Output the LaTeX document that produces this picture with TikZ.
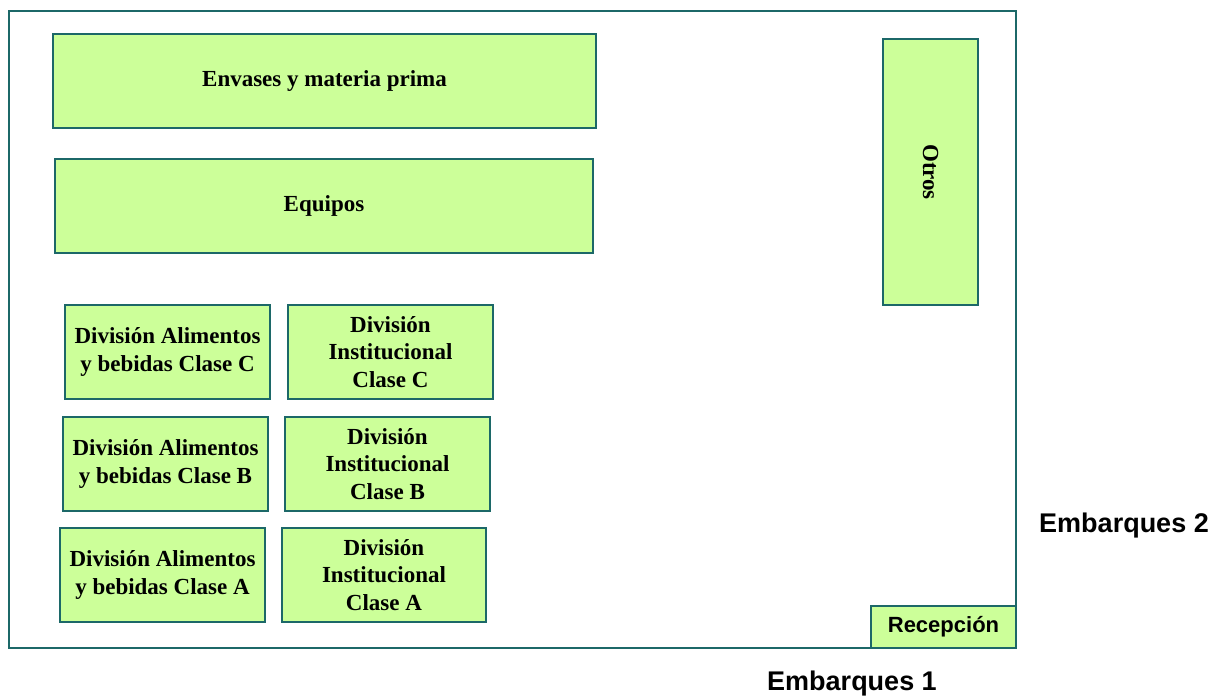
\documentclass[tikz,border=0pt]{standalone}
\usepackage{fontspec}
\setmainfont{Liberation Serif}
\newfontfamily\arialfont{Liberation Sans}
\definecolor{zoneedge}{RGB}{28,104,104}
\definecolor{zonefill}{RGB}{204,255,153}
\begin{document}
\begin{tikzpicture}[x=1pt,y=-1pt,
  zone/.style={draw=zoneedge,fill=zonefill,line width=2pt,inner sep=0pt,
    font=\fontsize{23}{27.5}\selectfont\bfseries,align=center},
  dock/.style={font=\arialfont\fontsize{27}{31}\selectfont\bfseries}]
\useasboundingbox (0,0) rectangle (1223,697);
% warehouse outline
\draw[zoneedge,line width=2pt] (9,11) rectangle (1016,648);
% storage zones
\node[zone,minimum width=543pt,minimum height=94pt] (envases) at (324.5,81) {Envases y materia prima};
\node[zone,minimum width=538pt,minimum height=94pt] (equipos) at (324,206) {Equipos};
\node[zone,minimum width=95pt,minimum height=266pt] (otros) at (930.5,172) {};
\node[font=\fontsize{23}{27}\selectfont\bfseries,rotate=-90] (otrostxt) at (otros.center) {Otros};
\node[zone,minimum width=205pt,minimum height=94pt] (aliC) at (167.5,352) {División Alimentos\\y bebidas Clase C};
\node[zone,minimum width=205pt,minimum height=94pt] (insC) at (390.5,352) {División\\Institucional\\Clase C};
\node[zone,minimum width=205pt,minimum height=94pt] (aliB) at (165.5,464) {División Alimentos\\y bebidas Clase B};
\node[zone,minimum width=205pt,minimum height=94pt] (insB) at (387.5,464) {División\\Institucional\\Clase B};
\node[zone,minimum width=205pt,minimum height=94pt] (aliA) at (162.5,575) {División Alimentos\\y bebidas Clase A};
\node[zone,minimum width=204pt,minimum height=94pt] (insA) at (384,575) {División\\Institucional\\Clase A};
\node[zone,minimum width=145pt,minimum height=42pt,font=\arialfont\fontsize{22}{26}\selectfont\bfseries] (recep) at (943.5,627) {Recepción};
% loading docks
\node[dock] (emb2) at (1124,526) {Embarques 2};
\node[dock] (emb1) at (852,684) {Embarques 1};
\end{tikzpicture}
\end{document}
